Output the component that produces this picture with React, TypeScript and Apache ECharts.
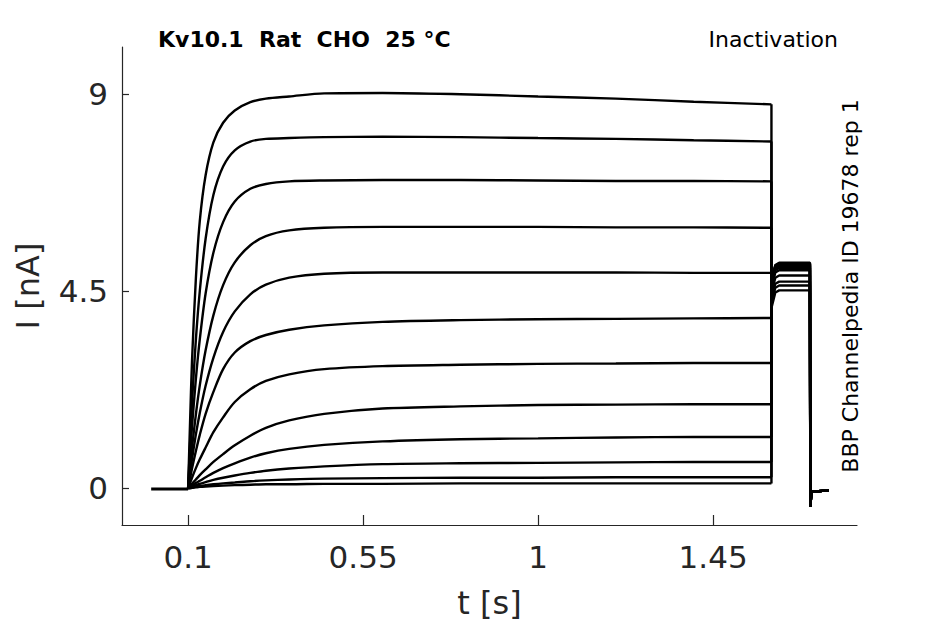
import React, { useEffect, useRef } from "react";
import * as echarts from "echarts";

// Shared sample times of the test pulse (s)
const pulseTimes = [0.1, 0.105, 0.11, 0.12, 0.13, 0.145, 0.165, 0.19, 0.22, 0.26, 0.3, 0.36, 0.45, 0.6, 0.8, 1.0, 1.2, 1.4, 1.6];

// Currents (nA) of each sweep at pulseTimes
const sweep1 = [0, 1.5, 2.9, 4.8, 6.1, 7.15, 7.9, 8.35, 8.63, 8.82, 8.9, 8.95, 9.02, 9.03, 9.0, 8.95, 8.9, 8.83, 8.77];
const sweep2 = [0, 1.0, 1.95, 3.4, 4.5, 5.7, 6.7, 7.35, 7.72, 7.92, 7.98, 8.0, 8.02, 8.03, 8.02, 8.0, 7.98, 7.95, 7.92];
const sweep3 = [0, 0.74, 1.4, 2.5, 3.4, 4.45, 5.38, 6.08, 6.55, 6.84, 6.95, 7.01, 7.03, 7.04, 7.04, 7.03, 7.02, 7.02, 7.01];
const sweep4 = [0, 0.48, 0.92, 1.69, 2.35, 3.15, 3.95, 4.64, 5.16, 5.55, 5.76, 5.89, 5.95, 5.97, 5.97, 5.97, 5.96, 5.96, 5.95];
const sweep5 = [0, 0.34, 0.66, 1.23, 1.72, 2.34, 2.98, 3.57, 4.04, 4.43, 4.65, 4.81, 4.9, 4.93, 4.93, 4.93, 4.93, 4.92, 4.92];
const sweep6 = [0, 0.22, 0.45, 0.85, 1.22, 1.7, 2.2, 2.72, 3.1, 3.36, 3.5, 3.62, 3.72, 3.8, 3.84, 3.86, 3.87, 3.88, 3.89];
const sweep7 = [0, 0.12, 0.24, 0.46, 0.66, 0.93, 1.28, 1.62, 1.97, 2.26, 2.45, 2.6, 2.72, 2.79, 2.82, 2.84, 2.85, 2.86, 2.86];
const sweep8 = [0, 0.05, 0.1, 0.2, 0.3, 0.43, 0.6, 0.78, 0.98, 1.2, 1.38, 1.55, 1.7, 1.82, 1.87, 1.9, 1.91, 1.92, 1.92];
const sweep9 = [0, 0.03, 0.06, 0.12, 0.17, 0.25, 0.35, 0.46, 0.57, 0.7, 0.8, 0.9, 0.99, 1.07, 1.12, 1.14, 1.16, 1.17, 1.17];
const sweep10 = [0, 0.02, 0.04, 0.07, 0.1, 0.14, 0.19, 0.24, 0.29, 0.35, 0.4, 0.45, 0.5, 0.55, 0.57, 0.58, 0.59, 0.6, 0.6];
const sweep11 = [0, 0.01, 0.02, 0.04, 0.05, 0.07, 0.09, 0.11, 0.13, 0.16, 0.18, 0.2, 0.22, 0.23, 0.24, 0.24, 0.25, 0.25, 0.25];
const sweep12 = [0, 0, 0.01, 0.02, 0.03, 0.04, 0.05, 0.06, 0.07, 0.08, 0.09, 0.09, 0.1, 0.1, 0.11, 0.11, 0.11, 0.11, 0.11];

// Tail current level of each sweep (nA)
const tailLevels = [4.52, 4.63, 4.72, 4.86, 4.98, 5.03, 5.07, 5.1, 5.12, 5.13, 5.14, 5.15];
const tailTimes = [1.6, 1.61, 1.62, 1.699];
const tailOffsets = [-0.4, -0.05, 0, 0];

// Holding baseline before and after
const preTimes = [0.005, 0.1];
const preValues = [-0.02, -0.02];
const postTimes = [1.7, 1.703, 1.747];
const postValues = [-0.42, -0.08, -0.05];

// Axes
const xTicks = [0.1, 0.55, 1, 1.45];
const yTicks = [0, 4.5, 9];

const sweeps = [sweep1, sweep2, sweep3, sweep4, sweep5, sweep6, sweep7, sweep8, sweep9, sweep10, sweep11, sweep12];

const FONT = "DejaVu Sans";

export default function App() {
  const ref = useRef<HTMLDivElement>(null);

  useEffect(() => {
    if (!ref.current) return;
    const chart = echarts.init(ref.current, null, { renderer: "svg" });

    const lineStyle = { color: "#000000", width: 2.4 };
    const series: any[] = [
      {
        type: "line",
        name: "holding",
        data: preTimes.map((t, i) => [t, preValues[i]]),
        showSymbol: false,
        symbol: "none",
        lineStyle: { color: "#000000", width: 3 },
        silent: true,
      },
    ];
    sweeps.forEach((sw, k) => {
      series.push({
        type: "line",
        name: "sweep " + (k + 1),
        data: pulseTimes.map((t, i) => [t, sw[i]]),
        showSymbol: false,
        symbol: "none",
        lineStyle,
        smooth: 0.3,
        silent: true,
      });
      const tail: number[][] = [[pulseTimes[pulseTimes.length - 1], sw[sw.length - 1]]];
      tailTimes.forEach((t, i) => tail.push([t, tailLevels[k] + tailOffsets[i]]));
      postTimes.forEach((t, i) => tail.push([t, postValues[i]]));
      series.push({
        type: "line",
        name: "sweep " + (k + 1) + " tail",
        data: tail,
        showSymbol: false,
        symbol: "none",
        lineStyle,
        smooth: false,
        silent: true,
      });
    });

    chart.setOption({
      animation: false,
      backgroundColor: "#ffffff",
      grid: { left: 122, right: 88, top: 47, bottom: 98 },
      xAxis: {
        type: "value",
        min: -0.07,
        max: 1.82,
        name: "t [s]",
        nameLocation: "middle",
        nameGap: 62,
        nameTextStyle: { fontFamily: FONT, fontSize: 32, color: "#262626" },
        axisLine: { show: true, onZero: false, lineStyle: { color: "#262626", width: 1.2 } },
        axisTick: { show: true, inside: true, length: 10, customValues: xTicks, lineStyle: { color: "#262626", width: 1.2 } },
        axisLabel: { customValues: xTicks, fontFamily: FONT, fontSize: 31, color: "#262626", margin: 16 },
        splitLine: { show: false },
      },
      yAxis: {
        type: "value",
        min: -0.84,
        max: 10.08,
        name: "I [nA]",
        nameLocation: "middle",
        nameGap: 78,
        nameTextStyle: { fontFamily: FONT, fontSize: 32, color: "#262626" },
        axisLine: { show: true, onZero: false, lineStyle: { color: "#262626", width: 1.2 } },
        axisTick: { show: true, inside: true, length: 7, customValues: yTicks, lineStyle: { color: "#262626", width: 1.2 } },
        axisLabel: { customValues: yTicks, fontFamily: FONT, fontSize: 31, color: "#262626", margin: 14 },
        splitLine: { show: false },
      },
      graphic: [
        {
          type: "text",
          x: 158,
          y: 39,
          style: {
            text: "Kv10.1  Rat  CHO  25 °C",
            font: "bold 22px 'DejaVu Sans'",
            fill: "#000000",
            align: "left",
            verticalAlign: "middle",
          },
        },
        {
          type: "text",
          x: 838,
          y: 39,
          style: {
            text: "Inactivation",
            font: "22px 'DejaVu Sans'",
            fill: "#000000",
            align: "right",
            verticalAlign: "middle",
          },
        },
        {
          type: "text",
          x: 850,
          y: 286,
          rotation: Math.PI / 2,
          style: {
            text: "BBP Channelpedia ID 19678 rep 1",
            font: "22px 'DejaVu Sans'",
            fill: "#000000",
            align: "center",
            verticalAlign: "middle",
          },
        },
      ],
      series,
    });

    return () => chart.dispose();
  }, []);

  return (
    <div
      ref={ref}
      style={{ position: "absolute", left: 0, top: 0, width: 945, height: 624 }}
    />
  );
}
